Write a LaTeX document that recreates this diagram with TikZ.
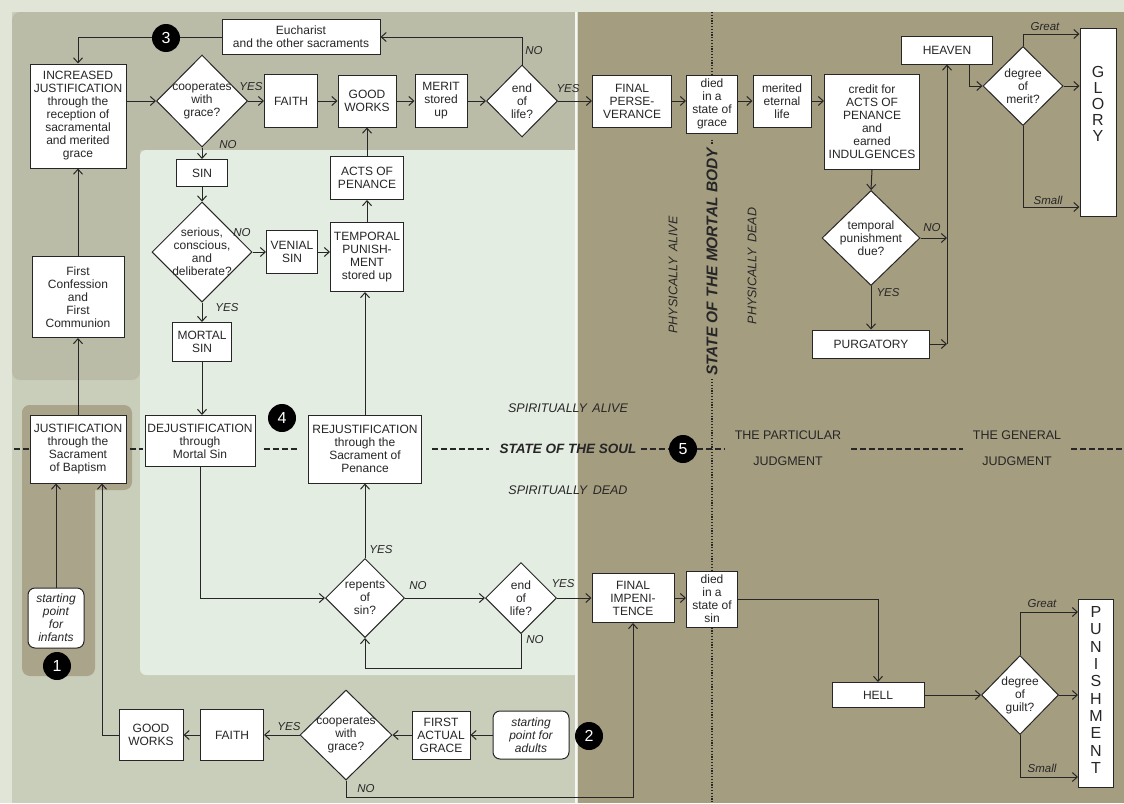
\documentclass[tikz,border=0pt]{standalone}
\usepackage{fontspec}
\setmainfont{Liberation Sans}
\usetikzlibrary{shapes.geometric,arrows.meta}
\definecolor{pagebg}{RGB}{224,229,216}
\definecolor{leftlow}{RGB}{201,206,187}
\definecolor{lefttop}{RGB}{187,188,168}
\definecolor{mint}{RGB}{228,237,226}
\definecolor{colbrown}{RGB}{170,164,138}
\definecolor{rightbg}{RGB}{165,157,128}
\definecolor{ink}{RGB}{38,38,38}
\newcommand\boxfont{\fontsize{12}{13}\selectfont}
\newcommand\lblfont{\fontsize{11.5}{13}\selectfont\itshape}
\newcommand\bigfont{\fontsize{16}{16}\selectfont}
\newcommand\punfont{\fontsize{16}{17.3}\selectfont}
\newcommand\numfont{\fontsize{16}{16}\selectfont}
\newcommand\zonefont{\fontsize{12.5}{26}\selectfont}
\newcommand\zoneit{\fontsize{12.5}{14}\selectfont\itshape}
\newcommand\sosfont{\fontsize{13.5}{14}\selectfont\bfseries\itshape}
\newcommand\mbfont{\fontsize{15.5}{16}\selectfont\bfseries\itshape}
\tikzset{
 box/.style={draw=ink, fill=white, line width=1pt, align=center, inner sep=0pt, font=\boxfont, text=ink},
 dia/.style={diamond, draw=ink, fill=white, line width=1pt, inner sep=0pt},
 dtxt/.style={align=center, font=\boxfont, text=ink, inner sep=0pt},
 startbox/.style={box, rounded corners=7pt, font=\boxfont\itshape},
 yn/.style={font=\lblfont, text=ink, inner sep=0pt},
 arr/.style={draw=ink, line width=1pt, -{Straight Barb[length=5pt,width=9pt,line width=1pt]}},
 num/.style={circle, fill=black, text=white, minimum size=28pt, inner sep=0pt, font=\numfont},
 dsh/.style={draw=ink, line width=1.8pt, dash pattern=on 6pt off 3pt},
 dotline/.style={draw=ink, line width=2.4pt, dash pattern=on 1.2pt off 1.6pt},
 zone/.style={font=\zonefont, text=ink, align=center, inner sep=0pt},
}
\begin{document}
\begin{tikzpicture}[x=1pt,y=-1pt]
\useasboundingbox (0,0) rectangle (1124,803);
% backgrounds
\fill[pagebg] (0,0) rectangle (1124,803);
\fill[leftlow] (12,12) rectangle (577,803);
\fill[rightbg] (578,12) rectangle (1124,803);
\fill[lefttop] (577,12) [rounded corners=8pt] -- (12,12) -- (12,380) -- (140,380) [sharp corners] -- (140,150) -- (577,150) -- cycle;
\fill[mint] (577,150) [rounded corners=6pt] -- (140,150) -- (140,675) [sharp corners] -- (577,675) -- cycle;
\fill[colbrown, rounded corners=8pt] (22,405) rectangle (132,490);
\fill[colbrown, rounded corners=8pt] (22,405) rectangle (95,676);
\draw[white!70!pagebg, line width=2.5pt] (576,12) -- (576,803);

% top row
\node[box, minimum width=158pt, minimum height=35pt] (eu) at (301,37) {Eucharist\\and the other sacraments};
\node[box, minimum width=96pt, minimum height=104pt] (incj) at (78,116) {INCREASED\\JUSTIFICATION\\through the\\reception of\\sacramental\\and merited\\grace};
\node[dia, minimum width=91pt, minimum height=92pt] (d1) at (202,101) {};
\node[box, minimum width=53pt, minimum height=53pt] (faith1) at (291,101) {FAITH};
\node[box, minimum width=58pt, minimum height=52pt] (gw1) at (367,101) {GOOD\\WORKS};
\node[box, minimum width=52pt, minimum height=53pt] (merit) at (441,101) {MERIT\\stored\\up};
\node[dia, minimum width=71pt, minimum height=72pt] (d2) at (522,101) {};
\node[box, minimum width=79pt, minimum height=52pt] (fp) at (632,101) {FINAL\\PERSE-\\VERANCE};
\node[box, minimum width=51pt, minimum height=58pt] (dg) at (712,104) {died\\in a\\state of\\grace};
\node[box, minimum width=58pt, minimum height=52pt] (mel) at (782,101) {merited\\eternal\\life};
\node[box, minimum width=95pt, minimum height=95pt] (credit) at (872,122) {credit for\\ACTS OF\\PENANCE\\and\\earned\\INDULGENCES};
\node[box, minimum width=91pt, minimum height=28pt] (heaven) at (947,50) {HEAVEN};
\node[dia, minimum width=80pt, minimum height=79pt] (d3) at (1023,86) {};
\node[box, minimum width=36pt, minimum height=188pt] (glory) at (1098,122) {};
\node[dtxt, font=\bigfont] (gtxt) at (1098,104) {G\\L\\O\\R\\Y};
\node[dia, minimum width=98pt, minimum height=95pt] (d4) at (871,238) {};
\node[box, minimum width=117pt, minimum height=28pt] (purg) at (871,344) {PURGATORY};

% middle
\node[box, minimum width=51pt, minimum height=27pt] (sin) at (202,173) {SIN};
\node[dia, minimum width=100pt, minimum height=100pt] (d5) at (202,252) {};
\node[box, minimum width=51pt, minimum height=43pt] (venial) at (292,252) {VENIAL\\SIN};
\node[box, minimum width=73pt, minimum height=69pt] (tp) at (367,257) {TEMPORAL\\PUNISH-\\MENT\\stored up};
\node[box, minimum width=73pt, minimum height=43pt] (acts) at (367,178) {ACTS OF\\PENANCE};
\node[box, minimum width=59pt, minimum height=39pt] (mortal) at (202,342) {MORTAL\\SIN};
\node[box, minimum width=110pt, minimum height=51pt] (dej) at (200,441) {DEJUSTIFICATION\\through\\Mortal Sin};
\node[box, minimum width=113pt, minimum height=68pt] (rej) at (365,449) {REJUSTIFICATION\\through the\\Sacrament of\\Penance};
\node[dia, minimum width=79pt, minimum height=79pt] (d6) at (365,598) {};
\node[dia, minimum width=71pt, minimum height=71pt] (d7) at (521,598) {};
\node[box, minimum width=82pt, minimum height=49pt] (fi) at (633,598) {FINAL\\IMPENI-\\TENCE};
\node[box, minimum width=51pt, minimum height=56pt] (ds) at (712,599) {died\\in a\\state of\\sin};
\node[box, minimum width=92pt, minimum height=25pt] (hell) at (878,695) {HELL};
\node[dia, minimum width=77pt, minimum height=79pt] (d8) at (1020,695) {};
\node[box, minimum width=35pt, minimum height=188pt] (pun) at (1096,693) {};
\node[dtxt, font=\punfont] (ptxt) at (1096,690) {P\\U\\N\\I\\S\\H\\M\\E\\N\\T};

% left and bottom
\node[box, minimum width=92pt, minimum height=81pt] (fc) at (78,297) {First\\Confession\\and\\First\\Communion};
\node[box, minimum width=96pt, minimum height=68pt] (bap) at (78,449) {JUSTIFICATION\\through the\\Sacrament\\of Baptism};
\node[startbox, minimum width=56pt, minimum height=60pt] (inf) at (56,618) {starting\\point\\for\\infants};
\node[box, minimum width=64pt, minimum height=51pt] (gw2) at (151,735) {GOOD\\WORKS};
\node[box, minimum width=63pt, minimum height=51pt] (faith2) at (232,735) {FAITH};
\node[dia, minimum width=92pt, minimum height=90pt] (d9) at (346,735) {};
\node[box, minimum width=58pt, minimum height=48pt] (fag) at (441,735) {FIRST\\ACTUAL\\GRACE};
\node[startbox, minimum width=76pt, minimum height=48pt] (ad) at (531,735) {starting\\point for\\adults};

% diamond texts
\node[dtxt] (t1) at (d1) {cooperates\\with\\grace?};
\node[dtxt] (t2) at (d2) {end\\of\\life?};
\node[dtxt] (t3) at (d3) {degree\\of\\merit?};
\node[dtxt] (t4) at (d4) {temporal\\punishment\\due?};
\node[dtxt] (t5) at (d5) {serious,\\conscious,\\and\\deliberate?};
\node[dtxt] (t6) at (d6) {repents\\of\\sin?};
\node[dtxt] (t7) at (d7) {end\\of\\life?};
\node[dtxt] (t8) at (d8) {degree\\of\\guilt?};
\node[dtxt] (t9) at (d9) {cooperates\\with\\grace?};

% connectors
\draw[arr] (eu.west) -| (incj.north);
\draw[arr] (d2.north) |- (eu.east);
\draw[arr] (incj.east |- d1.west) -- (d1.west);
\draw[arr] (d1.east) -- (faith1.west);
\draw[arr] (faith1.east) -- (gw1.west);
\draw[arr] (gw1.east) -- (merit.west);
\draw[arr] (merit.east) -- (d2.west);
\draw[arr] (d2.east) -- (fp.west);
\draw[arr] (fp.east) -- (fp.east -| dg.west);
\draw[arr] (dg.east |- mel.west) -- (mel.west);
\draw[arr] (mel.east) -- (mel.east -| credit.west);
\draw[arr] (credit.south) -- (d4.north);
\draw[arr] (d4.south) -- (purg.north);
\draw[arr] (d4.east) -- (d4.east -| heaven.south);
\draw[arr] (purg.east) -- (purg.east -| heaven.south);
\draw[arr] (purg.east -| heaven.south) -- (heaven.south);
\draw[arr] ([xshift=22pt]heaven.south) |- (d3.west);
\draw[arr] (d3.north) |- ([yshift=88pt]glory.west);
\draw[arr] (d3.east) -- (d3.east -| glory.west);
\draw[arr] (d3.south) |- ([yshift=-85pt]glory.west);

\draw[arr] (d1.south) -- (sin.north);
\draw[arr] (sin.south) -- (d5.north);
\draw[arr] (d5.east) -- (venial.west);
\draw[arr] (venial.east) -- (venial.east -| tp.west);
\draw[arr] (tp.north) -- (acts.south);
\draw[arr] (acts.north) -- (gw1.south);
\draw[arr] (d5.south) -- (mortal.north);
\draw[arr] (mortal.south) -- (mortal.south |- dej.north);
\draw[arr] (dej.south) |- (d6.west);
\draw[arr] (d6.north) -- (rej.south);
\draw[arr] (rej.north) -- (rej.north |- tp.south);
\draw[arr] (d6.east) -- (d7.west);
\draw[arr] (d7.east) -- (fi.west);
\draw[arr] (d7.south) -- ++(0,34) -| (d6.south);
\draw[arr] (fi.east) -- (fi.east -| ds.west);
\draw[arr] (ds.east) -| (hell.north);
\draw[arr] (hell.east) -- (d8.west);
\draw[arr] (d8.north) |- ([yshift=81pt]pun.west);
\draw[arr] (d8.east) -- (d8.east -| pun.west);
\draw[arr] (d8.south) |- ([yshift=-84pt]pun.west);

\draw[arr] (fc.north) -- (incj.south);
\draw[arr] (bap.north) -- (fc.south);
\draw[arr] (inf.north) -- (inf.north |- bap.south);
\draw[arr] (gw2.west) -| ([xshift=24pt]bap.south);
\draw[arr] (faith2.west) -- (gw2.east);
\draw[arr] (d9.west) -- (faith2.east);
\draw[arr] (fag.west) -- (d9.east);
\draw[arr] (ad.west) -- (fag.east);
\draw[arr] (d9.south) -- ++(0,17) -| (fi.south);

% yes/no labels
\node[yn] (l1) at (251,87) {YES};
\node[yn] (l2) at (228,145) {NO};
\node[yn] (l3) at (534,51) {NO};
\node[yn] (l4) at (568,89) {YES};
\node[yn] (l5) at (1045,27) {Great};
\node[yn] (l6) at (1048,200) {Small};
\node[yn] (l7) at (932,228) {NO};
\node[yn] (l8) at (888,293) {YES};
\node[yn] (l9) at (242,233) {NO};
\node[yn] (l10) at (227,308) {YES};
\node[yn] (l11) at (381,550) {YES};
\node[yn] (l12) at (418,586) {NO};
\node[yn] (l13) at (563,584) {YES};
\node[yn] (l14) at (535,640) {NO};
\node[yn] (l15) at (289,727) {YES};
\node[yn] (l16) at (366,789) {NO};
\node[yn] (l17) at (1042,604) {Great};
\node[yn] (l18) at (1042,768) {Small};

% zone texts
\node[zone, font=\zoneit, rotate=90] (pa) at (673,275) {PHYSICALLY\, ALIVE};
\node[zone, font=\mbfont, rotate=90] (mb) at (712,262) {STATE OF THE MORTAL BODY};
\node[zone, font=\zoneit, rotate=90] (pd) at (752,266) {PHYSICALLY\, DEAD};
\node[zone, font=\sosfont] (sos) at (568,449) {STATE OF THE SOUL};
\node[zone, font=\zoneit] (sa) at (568,408) {SPIRITUALLY\, ALIVE};
\node[zone, font=\zoneit] (sd) at (568,490) {SPIRITUALLY\, DEAD};
\node[zone] (pj) at (788,448) {THE PARTICULAR\\JUDGMENT};
\node[zone] (gj) at (1017,448) {THE GENERAL\\JUDGMENT};

% dotted body line
\coordinate (dtop) at (712,12);
\coordinate (dbot) at (712,803);
\draw[dotline] (dtop) -- (dg.north);
\draw[dotline, shorten <=6pt, shorten >=3pt] (dg.south) -- (mb.east);
\draw[dotline, shorten <=3pt] (mb.west) -- (ds.north);
\draw[dotline] (ds.south) -- (dbot);

% soul dashed line
\node[num] (n5) at (683,449) {5};
\coordinate (dl0) at (14,449);
\coordinate (dl1) at (1124,449);
\draw[dsh] (dl0) -- (bap.west);
\draw[dsh, shorten <=3pt, shorten >=2pt] (bap.east) -- (dej.west |- bap.east);
\draw[dsh, shorten <=8pt, shorten >=11pt] (dej.east |- rej.west) -- (rej.west);
\draw[dsh, shorten <=10pt, shorten >=10pt] (rej.east) -- (sos.west);
\draw[dsh, shorten <=4pt] (sos.east) -- (n5);
\draw[dsh, shorten >=10pt] (n5) -- (pj.west |- n5);
\draw[dsh, shorten <=10pt, shorten >=10pt] (pj.east |- n5) -- (gj.west |- n5);
\draw[dsh, shorten <=10pt] (gj.east |- n5) -- (dl1);

% number circles
\node[num] (n1) at (57,666) {1};
\node[num] (n2) at (589,736) {2};
\node[num] (n3) at (166,38) {3};
\node[num] (n4) at (282,418) {4};
\end{tikzpicture}
\end{document}
